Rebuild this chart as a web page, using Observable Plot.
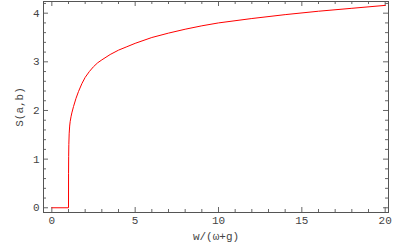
<!DOCTYPE html>
<html><head><meta charset="utf-8">
<script src="https://cdn.jsdelivr.net/npm/d3@7"></script>
<script src="https://cdn.jsdelivr.net/npm/@observablehq/plot@0.6"></script>
<style>body{margin:0;background:#fff;}</style>
</head><body><div id="chart"></div>
<script>
const wValues = [0, 1, 1, 1.003, 1.01, 1.02, 1.04, 1.07, 1.1, 1.15, 1.2, 1.3, 1.45, 1.6, 1.8, 2, 2.25, 2.5, 2.75, 3, 3.5, 4, 4.5, 5, 6, 7, 8, 9, 10, 12, 14, 16, 18, 20];
const sValues = [0, 0, 0, 0.7, 1.05, 1.3, 1.52, 1.68, 1.77, 1.87, 1.95, 2.08, 2.25, 2.39, 2.55, 2.68, 2.8, 2.9, 2.98, 3.04, 3.15, 3.24, 3.31, 3.38, 3.5, 3.59, 3.67, 3.74, 3.8, 3.89, 3.97, 4.04, 4.1, 4.16];
const xMajor = [0, 5, 10, 15, 20];
const xMinor = d3.range(0, 21, 1).filter(v => v % 5 !== 0);
const yMajor = [0, 1, 2, 3, 4];
const yMinor = d3.range(0, 4.21, 0.2).map(v => +v.toFixed(1)).filter(v => Math.abs(v - Math.round(v)) > 1e-6);

const data = wValues.map((w, i) => ({w, s: sValues[i]}));
const W = 400, H = 247, mL = 43, mR = 12, mT = 1, mB = 35;
const fw = W - mL - mR, fh = H - mT - mB;
const tickCol = "#666";
const font = "'Liberation Mono', 'DejaVu Sans Mono', monospace";

const plot = Plot.plot({
  width: W, height: H,
  marginLeft: mL, marginRight: mR, marginTop: mT, marginBottom: mB,
  style: {fontFamily: font, fontSize: "11px", color: "#444", background: "#fff"},
  x: {domain: [-0.5, 20.2]},
  y: {domain: [-0.097, 4.24]},
  marks: [
    Plot.tickX(xMajor, {x: d => d, insetTop: fh - 5, stroke: tickCol}),
    Plot.tickX(xMinor, {x: d => d, insetTop: fh - 3, stroke: tickCol}),
    Plot.tickX(xMajor, {x: d => d, insetBottom: fh - 5, stroke: tickCol}),
    Plot.tickX(xMinor, {x: d => d, insetBottom: fh - 3, stroke: tickCol}),
    Plot.tickY(yMajor, {y: d => d, insetRight: fw - 5, stroke: tickCol}),
    Plot.tickY(yMinor, {y: d => d, insetRight: fw - 3, stroke: tickCol}),
    Plot.tickY(yMajor, {y: d => d, insetLeft: fw - 5, stroke: tickCol}),
    Plot.tickY(yMinor, {y: d => d, insetLeft: fw - 3, stroke: tickCol}),
    Plot.axisX({ticks: xMajor, tickFormat: d3.format("d"), tickSize: 0, tickPadding: 4, label: "w/(ω+g)", labelAnchor: "center", labelArrow: "none", labelOffset: 27}),
    Plot.axisY({ticks: yMajor, tickFormat: d3.format("d"), tickSize: 0, tickPadding: 4, label: "S(a,b)", labelAnchor: "center", labelArrow: "none", labelOffset: 28}),
    Plot.frame({stroke: "#555"}),
    Plot.line(data, {x: "w", y: "s", stroke: "#ff0000", strokeWidth: 1, curve: "linear"})
  ]
});
document.getElementById("chart").appendChild(plot);
</script>
</body></html>
